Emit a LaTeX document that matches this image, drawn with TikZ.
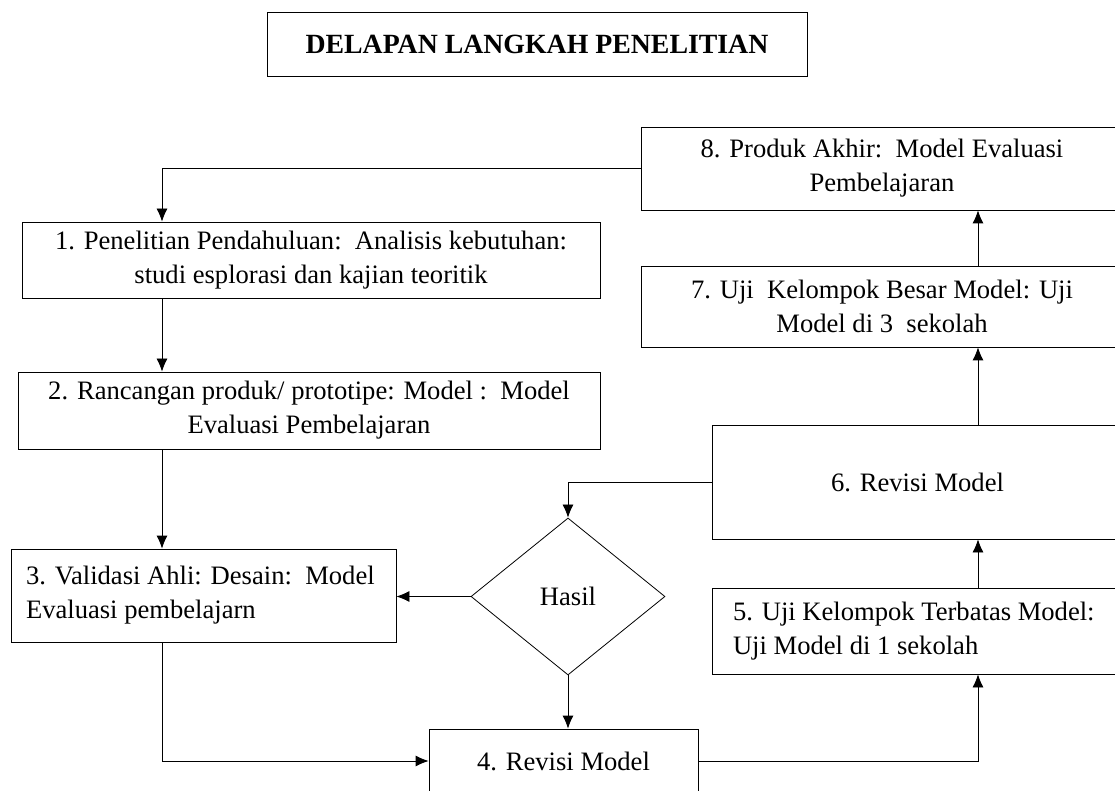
\documentclass[tikz,border=0pt]{standalone}
\usepackage{fontspec}
\setmainfont{Liberation Serif}
\usepackage{tikz}
\usetikzlibrary{positioning,shapes,arrows.meta}
\tikzset{
        ->, % makes the edges directed
        >={Latex[length=6.5pt,width=5.5pt]}, % filled arrow heads
        line width=1pt,
        kotak/.style={draw, rectangle, font=\fontsize{13.3pt}{17pt}\selectfont, align=center, inner sep=2pt},
        kotakkiri/.style={kotak, align=flush left},
        putusan/.style={draw, diamond, font=\fontsize{13.3pt}{17pt}\selectfont, inner sep=0pt},
}

\begin{document}
\begin{tikzpicture}[x=0.5pt,y=-0.5pt]
\clip (0,0) rectangle (1115,791);

\node[kotak,-,minimum width=270pt,minimum height=32pt,font=\fontsize{13.9pt}{17pt}\selectfont\bfseries] (judul) at (537,44) {DELAPAN LANGKAH PENELITIAN};

\node[kotak,-,minimum width=289pt,minimum height=38pt] (b1) at (311,260) {1. Penelitian Pendahuluan:\ \ Analisis kebutuhan:\\ studi esplorasi dan kajian teoritik};
\node[kotak,-,minimum width=291pt,minimum height=38.5pt] (b2) at (309,410.5) {2. Rancangan produk/ prototipe: Model :\ \ Model\\ Evaluasi Pembelajaran};
\node[kotakkiri,-,text width=177.5pt,inner xsep=7.5pt,minimum height=46.5pt] (b3) at (203.5,595.5) {3. Validasi Ahli: Desain:\ \ Model\\ Evaluasi pembelajarn};
\node[kotak,-,minimum width=134.5pt,minimum height=32pt] (b4) at (563.5,761) {4. Revisi Model};
\node[kotakkiri,-,text width=184.5pt,inner xsep=10.5pt,minimum height=43pt] (b5) at (917.5,631) {5. Uji Kelompok Terbatas Model:\\ Uji Model di 1 sekolah};
\node[kotak,-,minimum width=205.5pt,minimum height=57pt] (b6) at (917.5,482) {6. Revisi Model};
\node[kotak,-,minimum width=241pt,minimum height=40.5pt] (b7) at (882,306.5) {7. Uji\ \ Kelompok Besar Model: Uji\\ Model di 3\ \ sekolah};
\node[kotak,-,minimum width=241pt,minimum height=41.5pt] (b8) at (882,168.5) {8. Produk Akhir:\ \ Model Evaluasi\\ Pembelajaran};

\node[putusan,-,minimum width=97pt,minimum height=78.5pt] (hasil) at (568,596.5) {Hasil};

\coordinate (kiri) at (162,169);
\coordinate (kanan) at (978,760);

\draw (b8.west) -| (b1.north -| kiri);
\draw (b1.south -| kiri) -- (b2.north -| kiri);
\draw (b2.south -| kiri) -- (b3.north -| kiri);
\draw (b3.south -| kiri) |- (b4.west);
\draw (hasil.west) -- (hasil.west -| b3.east);
\draw (hasil.south) -- (hasil.south |- b4.north);
\draw (b4.east) -| (b5.south -| kanan);
\draw (b5.north -| kanan) -- (b6.south -| kanan);
\draw (b6.north -| kanan) -- (b7.south -| kanan);
\draw (b7.north -| kanan) -- (b8.south -| kanan);
\draw (b6.west) -| (hasil.north);

\end{tikzpicture}
\end{document}
